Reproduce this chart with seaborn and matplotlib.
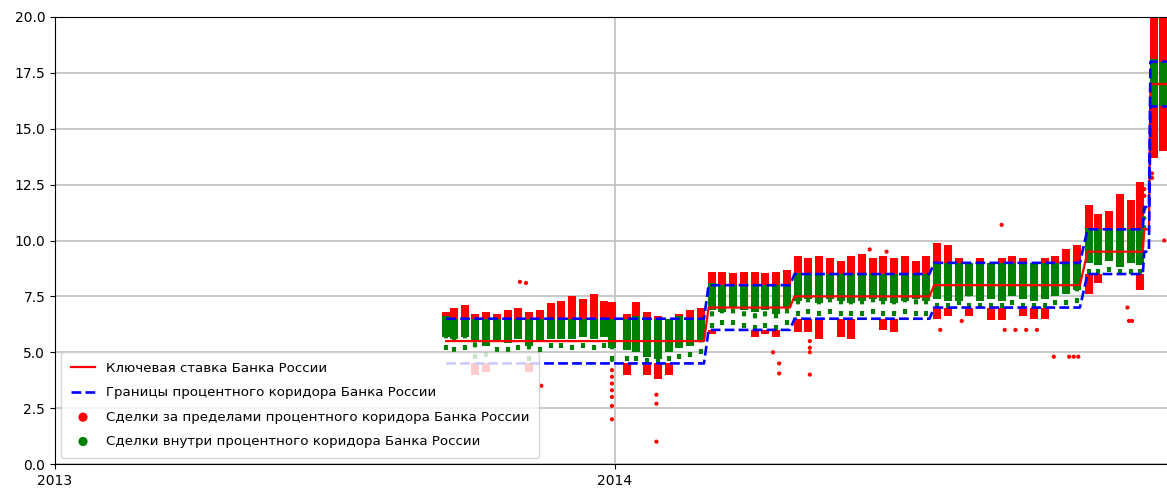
import numpy as np
import pandas as pd
import matplotlib
matplotlib.use("Agg")
import matplotlib.pyplot as plt
import matplotlib.dates as mdates
import seaborn as sns

# ---- Key rate of the Bank of Russia and its corridor (vertices of the daily series)
rate_dates = ["2013-09-13", "2014-02-28", "2014-03-03", "2014-04-25", "2014-04-28",
              "2014-07-25", "2014-07-28", "2014-10-31", "2014-11-05", "2014-12-11",
              "2014-12-12", "2014-12-15", "2014-12-16", "2014-12-30"]
key_rate = [5.5, 5.5, 7.0, 7.0, 7.5, 7.5, 8.0, 8.0, 9.5, 9.5, 10.5, 10.5, 17.0, 17.0]
corridor_upper = [6.5, 6.5, 8.0, 8.0, 8.5, 8.5, 9.0, 9.0, 10.5, 10.5, 11.5, 11.5, 18.0, 18.0]
corridor_lower = [4.5, 4.5, 6.0, 6.0, 6.5, 6.5, 7.0, 7.0, 8.5, 8.5, 9.5, 9.5, 16.0, 16.0]

# ---- Weekly ranges of deal rates
week_dates = ["2013-09-13", "2013-09-18", "2013-09-25", "2013-10-02", "2013-10-09", "2013-10-16",
              "2013-10-23", "2013-10-30", "2013-11-06", "2013-11-13", "2013-11-20", "2013-11-27",
              "2013-12-04", "2013-12-11", "2013-12-18", "2013-12-25", "2013-12-30",
              "2014-01-09", "2014-01-15", "2014-01-22", "2014-01-29", "2014-02-05", "2014-02-12",
              "2014-02-19", "2014-02-26",
              "2014-03-05", "2014-03-12", "2014-03-19", "2014-03-26", "2014-04-02", "2014-04-09",
              "2014-04-16", "2014-04-23",
              "2014-04-30", "2014-05-07", "2014-05-14", "2014-05-21", "2014-05-28", "2014-06-04",
              "2014-06-11", "2014-06-18", "2014-06-25", "2014-07-02", "2014-07-09", "2014-07-16",
              "2014-07-23",
              "2014-07-30", "2014-08-06", "2014-08-13", "2014-08-20", "2014-08-27", "2014-09-03",
              "2014-09-10", "2014-09-17", "2014-09-24", "2014-10-01", "2014-10-08", "2014-10-15",
              "2014-10-22", "2014-10-29",
              "2014-11-06", "2014-11-12", "2014-11-19", "2014-11-26", "2014-12-03", "2014-12-09",
              "2014-12-18", "2014-12-24"]

green_high = [6.6, 6.5, 6.5, 6.5, 6.5, 6.5, 6.5, 6.5, 6.5, 6.5, 6.5, 6.5, 6.5, 6.5, 6.5, 6.5, 6.5,
              6.5, 6.6, 6.5, 6.5, 6.5, 6.6, 6.5, 6.5,
              8.1, 8.0, 8.0, 8.0, 8.0, 8.0, 8.0, 8.0,
              8.55, 8.5, 8.5, 8.5, 8.5, 8.5, 8.5, 8.5, 8.5, 8.5, 8.5, 8.5, 8.5,
              9.05, 9.0, 9.0, 9.0, 9.0, 9.0, 9.0, 9.0, 9.0, 9.0, 9.0, 9.0, 9.0, 9.05,
              10.55, 10.5, 10.5, 10.5, 10.5, 10.5,
              18.1, 18.0]
green_low = [5.7, 5.6, 5.7, 5.5, 5.3, 5.5, 5.4, 5.6, 5.3, 5.5, 5.6, 5.6, 5.6, 5.7, 5.6, 5.7, 5.2,
             5.1, 5.0, 4.8, 4.7, 5.0, 5.2, 5.3, 5.5,
             6.9, 6.8, 7.0, 6.9, 6.8, 6.9, 6.7, 7.0,
             7.3, 7.4, 7.2, 7.4, 7.3, 7.2, 7.3, 7.4, 7.3, 7.2, 7.3, 7.4, 7.3,
             7.4, 7.3, 7.3, 7.5, 7.3, 7.4, 7.3, 7.5, 7.4, 7.3, 7.4, 7.5, 7.6, 7.8,
             9.0, 8.9, 9.1, 8.8, 9.0, 8.9,
             16.0, 16.0]
green_sparse_low = [5.1, 5.0, 5.1, 4.7, 4.8, 5.0, 5.0, 5.1, 4.6, 5.0, 5.2, 5.2, 5.1, 5.2, 5.1, 5.2, 4.6,
                    4.6, 4.6, 4.5, 4.5, 4.6, 4.7, 4.8, 4.9,
                    6.1, 6.2, 6.2, 6.1, 6.0, 6.1, 6.0, 6.2,
                    6.6, 6.7, 6.6, 6.7, 6.6, 6.6, 6.6, 6.7, 6.6, 6.6, 6.7, 6.6, 6.6,
                    7.0, 7.0, 7.1, 7.0, 7.0, 7.0, 7.0, 7.1, 7.0, 7.0, 7.0, 7.1, 7.1, 7.2,
                    8.5, 8.5, 8.6, 8.5, 8.5, 8.5,
                    16.0, 16.0]
nan = np.nan
red_high = [6.8, 7.0, 7.1, 6.7, 6.8, 6.7, 6.9, 7.0, 6.8, 6.9, 7.2, 7.3, 7.5, 7.4, 7.6, 7.3, 7.25,
            6.7, 7.25, 6.8, 6.6, nan, 6.7, 6.9, 7.0,
            8.6, 8.6, 8.55, 8.6, 8.6, 8.55, 8.6, 8.7,
            9.3, 9.2, 9.3, 9.2, 9.1, 9.3, 9.4, 9.2, 9.3, 9.2, 9.3, 9.1, 9.3,
            9.9, 9.8, 9.2, nan, 9.2, nan, 9.2, 9.3, 9.2, nan, 9.2, 9.3, 9.6, 9.8,
            11.6, 11.2, 11.3, 12.1, 11.8, 12.6,
            20.0, 20.0]
red_low = [nan, nan, nan, 4.0, 4.1, nan, nan, nan, 4.1, nan, nan, nan, nan, nan, nan, nan, nan,
           4.0, nan, 4.0, 3.8, 4.0, nan, nan, nan,
           5.8, nan, nan, nan, 5.7, 5.8, 5.7, nan,
           5.9, 5.9, 5.6, nan, 5.7, 5.6, nan, nan, 6.0, 5.9, nan, nan, nan,
           6.5, 6.6, nan, 6.6, nan, 6.45, 6.45, nan, 6.6, 6.5, 6.5, nan, nan, nan,
           7.6, 8.1, nan, nan, nan, 7.8,
           13.7, 14.0]

# ---- Individual deals
out_dates = ["2013-10-31", "2013-11-04", "2013-11-14",
             "2013-12-30", "2013-12-30", "2013-12-30", "2013-12-30", "2013-12-30", "2013-12-30", "2013-12-30",
             "2014-01-28", "2014-01-28", "2014-01-28",
             "2014-04-14", "2014-04-18", "2014-04-18",
             "2014-05-08", "2014-05-08", "2014-05-08", "2014-05-08",
             "2014-06-16", "2014-06-27", "2014-09-10",
             "2014-08-01", "2014-08-15", "2014-09-12", "2014-09-19", "2014-09-26", "2014-10-03",
             "2014-10-14", "2014-10-24", "2014-10-27", "2014-10-30",
             "2014-12-01", "2014-12-02", "2014-12-04",
             "2014-12-12", "2014-12-12", "2014-12-17", "2014-12-17", "2014-12-25"]
out_values = [8.15, 8.1, 3.5,
              4.2, 3.9, 3.6, 3.3, 3.0, 2.6, 2.0,
              3.1, 2.7, 1.0,
              5.0, 4.5, 4.05,
              5.5, 5.2, 5.0, 4.0,
              9.6, 9.5, 10.7,
              6.0, 6.4, 6.0, 6.0, 6.0, 6.0,
              4.8, 4.8, 4.8, 4.8,
              7.0, 6.4, 6.4,
              12.0, 12.3, 13.0, 12.8, 10.0]
in_dates = ["2014-12-12", "2014-12-12", "2014-12-12", "2013-12-30"]
in_values = [11.4, 11.0, 10.6, 4.65]

lbl_key = "Ключевая ставка Банка России"
lbl_cor = "Границы процентного коридора Банка России"
lbl_out = "Сделки за пределами процентного коридора Банка России"
lbl_in = "Сделки внутри процентного коридора Банка России"

# ---- Figure
plt.rcParams["font.family"] = ["DejaVu Sans"]
fig = plt.figure(figsize=(11.67, 4.88), dpi=100)
x_end = pd.Timestamp("2014-12-30")
days_total = (x_end - pd.Timestamp("2013-01-01")).days
ax_w_px = days_total * 560 / 365
ax = fig.add_axes([55 / 1167, 24 / 488, ax_w_px / 1167, 447 / 488])

rd = pd.to_datetime(rate_dates)
wd = pd.to_datetime(week_dates)
idx = np.searchsorted(rd.values, wd.values, side="right") - 1
wk_upper = np.array(corridor_upper)[idx]
wk_lower = np.array(corridor_lower)[idx]

gh = np.array(green_high); gl = np.array(green_low); gs = np.array(green_sparse_low)
rh = np.array(red_high); rl = np.array(red_low)

m = ~np.isnan(rh)
ax.vlines(wd[m], wk_upper[m], rh[m], colors="red", linewidth=5.8, zorder=2)
m = ~np.isnan(rl)
ax.vlines(wd[m], rl[m], wk_lower[m], colors="red", linewidth=5.8, zorder=2)
ax.vlines(wd, gs, gl, colors="green", linewidth=3, linestyles=(0, (1.2, 1.6)), zorder=2.1)
ax.vlines(wd, gl, gh, colors="green", linewidth=5.8, zorder=2.2)

sns.scatterplot(x=pd.to_datetime(out_dates), y=out_values, color="red", s=9,
                edgecolor="none", ax=ax, label=lbl_out, zorder=2.5)
sns.scatterplot(x=pd.to_datetime(in_dates), y=in_values, color="green", s=9,
                edgecolor="none", ax=ax, label=lbl_in, zorder=2.5)

sns.lineplot(x=rd, y=key_rate, color="red", linewidth=1.6, ax=ax, label=lbl_key, zorder=4)
sns.lineplot(x=rd, y=corridor_upper, color="blue", linewidth=1.9, linestyle="--",
             ax=ax, label=lbl_cor, zorder=5)
sns.lineplot(x=rd, y=corridor_lower, color="blue", linewidth=1.9, linestyle="--",
             ax=ax, zorder=5)

ax.set_xlim(pd.Timestamp("2013-01-01"), x_end)
ax.xaxis.set_major_locator(mdates.YearLocator())
ax.xaxis.set_major_formatter(mdates.DateFormatter("%Y"))
ax.set_ylim(0, 20)
ax.set_yticks(np.arange(0, 20.01, 2.5))
ax.yaxis.set_major_formatter(matplotlib.ticker.FormatStrFormatter("%.1f"))
ax.set_xlabel("")
ax.set_ylabel("")
ax.tick_params(labelsize=10)
ax.grid(True, color="#c4c4c4", linewidth=1.3, zorder=1)
ax.set_axisbelow(True)

handles, labels = ax.get_legend_handles_labels()
order = [lbl_key, lbl_cor, lbl_out, lbl_in]
hmap = dict(zip(labels, handles))
ax.legend([hmap[l] for l in order], order, loc="lower left", fontsize=9.6,
          markerscale=2.2, labelspacing=0.85, borderpad=0.75, borderaxespad=0.45,
          handlelength=1.8)

fig.savefig("out.png", dpi=100)
